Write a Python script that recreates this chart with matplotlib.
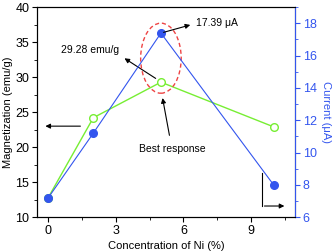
import matplotlib
matplotlib.use('Agg')
import matplotlib.pyplot as plt
from matplotlib.patches import Ellipse
from matplotlib.ticker import MultipleLocator

plt.rcParams['font.family'] = ['Liberation Sans', 'DejaVu Sans']

ni_conc = [0, 2, 5, 10]
magnetization = [12.8, 24.2, 29.28, 22.9]
current = [7.2, 11.2, 17.39, 8.0]

green = '#77ee33'
blue = '#3355ee'

fig, ax = plt.subplots(figsize=(3.33, 2.52), dpi=100)
fig.subplots_adjust(left=0.111, right=0.886, top=0.972, bottom=0.138)

ax.plot(ni_conc, magnetization, color=green, lw=1, marker='o', ms=5.5,
        mfc='white', mec=green, mew=1, zorder=3)
ax.set_xlim(-0.5, 10.95)
ax.set_ylim(10, 40)
ax.xaxis.set_major_locator(MultipleLocator(3))
ax.xaxis.set_minor_locator(MultipleLocator(1.5))
ax.yaxis.set_major_locator(MultipleLocator(5))
ax.yaxis.set_minor_locator(MultipleLocator(2.5))
ax.tick_params(which='both', direction='out', labelsize=9, pad=2)
ax.tick_params(which='major', length=3.5)
ax.tick_params(which='minor', length=2)
ax.set_xlabel('Concentration of Ni (%)', fontsize=8, labelpad=3)
ax.set_ylabel('Magnetization (emu/g)', fontsize=8, labelpad=2)

ax2 = ax.twinx()
ax2.plot(ni_conc, current, color=blue, lw=0.8, marker='o', ms=5.5,
         mfc=blue, mec=blue, zorder=3)
ax2.set_ylim(6, 19)
ax2.yaxis.set_major_locator(MultipleLocator(2))
ax2.yaxis.set_minor_locator(MultipleLocator(1))
ax2.tick_params(which='both', direction='out', labelsize=9, pad=2,
                colors=blue)
ax2.tick_params(which='major', length=3.5)
ax2.tick_params(which='minor', length=2)
ax2.spines['right'].set_color(blue)
ax2.set_ylabel('Current (\u03bcA)', fontsize=8, color=blue, rotation=270,
               labelpad=10)

# dashed ellipse around the peak
ell = Ellipse((5.0, 32.7), 1.8, 10.0, fill=False, ls=(0, (3, 2)),
              color='#ee4444', lw=1, zorder=4)
ax.add_patch(ell)

arrow = dict(arrowstyle='-|>', color='black', lw=0.8, mutation_scale=7)
ax.annotate('29.28 emu/g', xy=(1.84, 33.9), xytext=(1.84, 33.9),
            fontsize=7.5, ha='center', va='center')
ax.annotate('', xy=(3.28, 32.9), xytext=(4.87, 29.6), arrowprops=arrow)
ax2.annotate('17.39 \u03bcA', xy=(7.5, 18.0), xytext=(7.5, 18.0),
             fontsize=7.5, ha='center', va='center')
ax2.annotate('', xy=(6.42, 17.94), xytext=(5.0, 17.39), arrowprops=arrow)
ax.annotate('Best response', xy=(5.5, 19.7), xytext=(5.5, 19.7),
            fontsize=7.5, ha='center', va='center')
ax.annotate('', xy=(5.05, 27.4), xytext=(5.4, 21.3), arrowprops=arrow)

# axis pointer arrows
ax.annotate('', xy=(-0.25, 23.0), xytext=(1.55, 23.0), arrowprops=arrow)
ax.plot([9.47, 9.47], [16.3, 11.6], color='black', lw=0.8)
ax.annotate('', xy=(10.6, 11.6), xytext=(9.47, 11.6), arrowprops=arrow)

fig.savefig('out.png', dpi=100)
